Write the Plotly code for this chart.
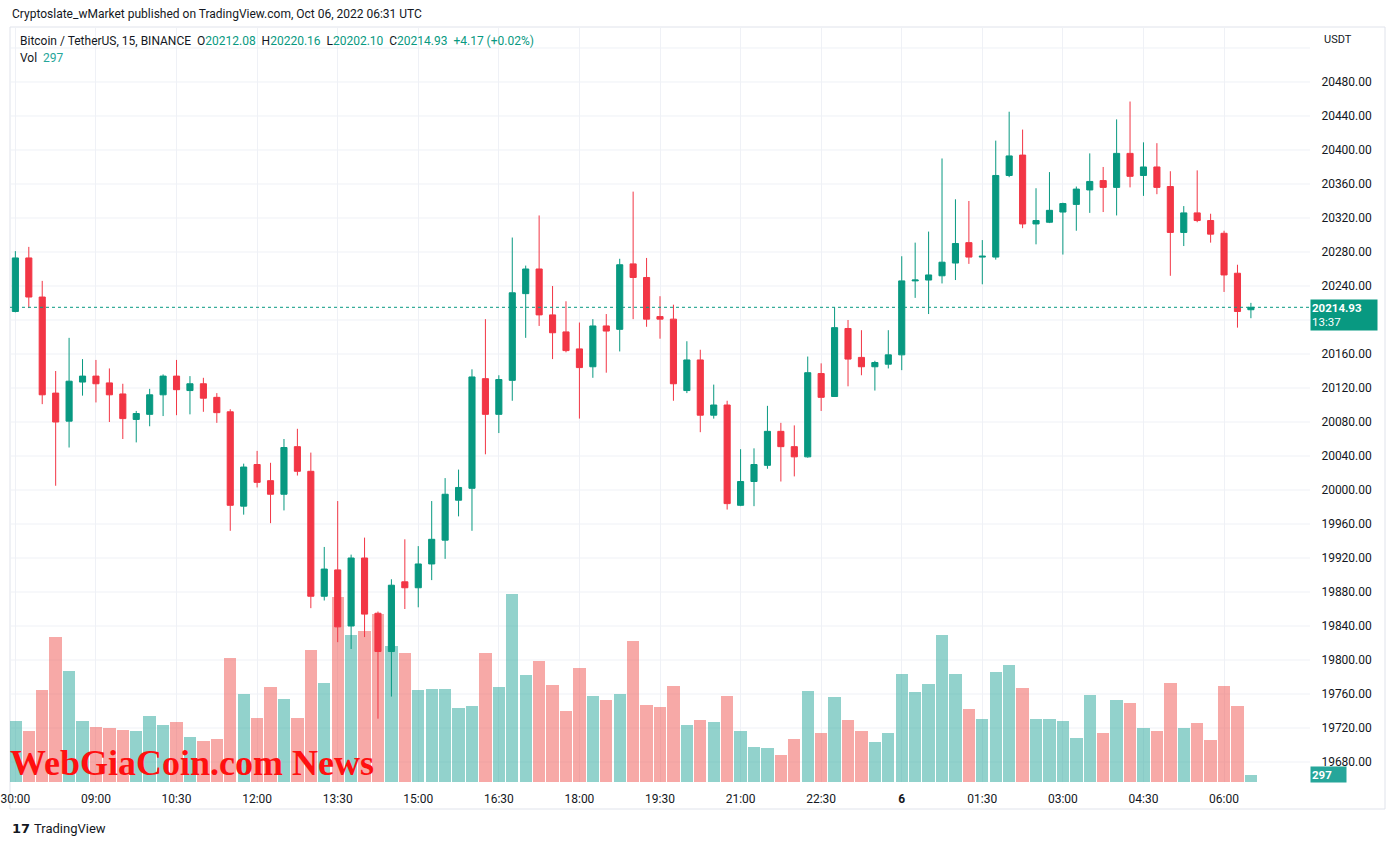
import plotly.graph_objects as go
import pandas as pd

# ---------------- data ----------------
start_time = "2022-10-05 07:30"
n_bars = 93
times = pd.date_range(start_time, periods=n_bars, freq="15min")

open_ = [20210, 20273, 20227, 20114, 20081, 20127, 20134, 20126, 20113, 20083,
         20089, 20112, 20134, 20117, 20125, 20109, 20092, 19981, 20030, 20011,
         19995, 20051, 20022, 19875, 19906, 19840, 19920, 19855, 19810, 19892,
         19885, 19913, 19941, 19988, 20002, 20131, 20089, 20129, 20231, 20260,
         20206, 20186, 20166, 20145, 20193, 20189, 20266, 20250, 20204, 20201,
         20117, 20153, 20088, 20100, 19982, 20010, 20029, 20069, 20051, 20039,
         20137, 20110, 20190, 20156, 20145, 20148, 20159, 20246, 20247, 20252,
         20267, 20291, 20274, 20274, 20370, 20394, 20313, 20315, 20327, 20336,
         20353, 20364, 20356, 20396, 20370, 20380, 20357, 20303, 20326, 20317,
         20302, 20255, 20212.08]
high = [20281, 20286, 20246, 20140, 20179, 20154, 20153, 20143, 20125, 20093,
        20119, 20136, 20153, 20134, 20132, 20114, 20095, 20031, 20046, 20032,
        20060, 20072, 20044, 19933, 19987, 19924, 19944, 19857, 19895, 19942,
        19934, 19987, 20014, 20024, 20142, 20201, 20135, 20297, 20264, 20323,
        20240, 20222, 20197, 20201, 20207, 20272, 20351, 20273, 20228, 20218,
        20175, 20165, 20124, 20105, 20048, 20049, 20099, 20079, 20076, 20157,
        20149, 20215, 20200, 20188, 20152, 20188, 20275, 20291, 20304, 20390,
        20342, 20340, 20294, 20411, 20445, 20424, 20355, 20374, 20338, 20357,
        20396, 20380, 20436, 20457, 20409, 20408, 20375, 20334, 20376, 20325,
        20305, 20265, 20220.16]
low = [20209, 20214, 20101, 20005, 20050, 20111, 20103, 20080, 20060, 20056,
       20075, 20087, 20088, 20089, 20092, 20079, 19952, 19971, 20003, 19961,
       19976, 20017, 19861, 19870, 19821, 19813, 19827, 19731, 19757, 19860,
       19862, 19894, 19919, 19969, 19952, 20042, 20067, 20105, 20179, 20193,
       20154, 20162, 20084, 20132, 20138, 20163, 20201, 20192, 20178, 20105,
       20114, 20068, 20084, 19977, 19981, 19981, 20025, 20010, 20016, 20038,
       20093, 20110, 20122, 20135, 20117, 20143, 20141, 20226, 20207, 20243,
       20247, 20266, 20242, 20271, 20368, 20308, 20289, 20314, 20277, 20305,
       20326, 20327, 20323, 20356, 20346, 20348, 20252, 20287, 20315, 20291,
       20233, 20191, 20202.10]
close = [20273, 20227, 20112, 20080, 20128, 20134, 20125, 20112, 20084, 20090,
         20112, 20134, 20118, 20125, 20108, 20091, 19982, 20027, 20009, 19995,
         20050, 20022, 19875, 19907, 19839, 19920, 19854, 19810, 19888, 19885,
         19913, 19942, 19995, 20003, 20133, 20089, 20130, 20232, 20260, 20206,
         20185, 20164, 20144, 20193, 20187, 20265, 20250, 20201, 20201, 20125,
         20153, 20088, 20100, 19984, 20010, 20030, 20069, 20051, 20039, 20138,
         20109, 20191, 20154, 20145, 20150, 20159, 20246, 20247, 20253, 20268,
         20290, 20274, 20275, 20370, 20393, 20313, 20317, 20329, 20337, 20354,
         20363, 20356, 20396, 20369, 20380, 20356, 20303, 20326, 20317, 20301,
         20253, 20210, 20214.93]
volume = [2671, 2231, 4039, 6362, 4871, 2671, 2402, 2372, 2279, 2231,
          2891, 2499, 2640, 1980, 1804, 1892, 5456, 3872, 2816, 4180,
          3652, 2816, 5808, 4356, 8140, 6468, 6644, 7414, 5984, 5676,
          4048, 4092, 4092, 3256, 3344, 5676, 4180, 8272, 4708, 5324,
          4268, 3124, 5016, 3784, 3608, 3872, 6204, 3388, 3300, 4224,
          2530, 2728, 2640, 3784, 2244, 1540, 1496, 1188, 1892, 4004,
          2156, 3740, 2750, 2266, 1760, 2156, 4752, 3960, 4312, 6468,
          4752, 3212, 2772, 4840, 5148, 4136, 2754, 2754, 2680, 1927,
          3819, 2147, 3604, 3463, 2363, 2226, 4352, 2363, 2578, 1870,
          4211, 3326, 297]

tick_times = ["2022-10-05 07:30", "2022-10-05 09:00", "2022-10-05 10:30",
              "2022-10-05 12:00", "2022-10-05 13:30", "2022-10-05 15:00",
              "2022-10-05 16:30", "2022-10-05 18:00", "2022-10-05 19:30",
              "2022-10-05 21:00", "2022-10-05 22:30", "2022-10-06 00:00",
              "2022-10-06 01:30", "2022-10-06 03:00", "2022-10-06 04:30",
              "2022-10-06 06:00"]
tick_labels = ["30:00", "09:00", "10:30", "12:00", "13:30", "15:00", "16:30",
               "18:00", "19:30", "21:00", "22:30", "<b>6</b>", "01:30", "03:00",
               "04:30", "06:00"]
# 20200 is hidden behind the last-price label in the reference
price_ticks = [19680, 19720, 19760, 19800, 19840, 19880, 19920, 19960, 20000,
               20040, 20080, 20120, 20160, 20240, 20280, 20320, 20360,
               20400, 20440, 20480]
grid_prices = [19680, 19720, 19760, 19800, 19840, 19880, 19920, 19960, 20000,
               20040, 20080, 20120, 20160, 20200, 20240, 20280, 20320, 20360,
               20400, 20440, 20480, 20520]
last_price = 20214.93
last_volume = 297

# ---------------- style ----------------
UP = "#089981"
DOWN = "#F23645"
VOL_UP = "rgba(38,166,154,0.5)"
VOL_DOWN = "rgba(239,83,80,0.5)"
GRID = "#eff1f6"
TEXT = "#131722"
FONT = "Roboto"

W, H = 1393, 845
L, R, T, B = 10, 83, 28, 63
PW, PH = W - L - R, H - T - B


def pxx(x):
    return (x - L) / PW


def pxy(y):
    return (H - B - y) / PH


t0 = pd.Timestamp(start_time)
bar = pd.Timedelta(minutes=15)
x_range = [t0 - 0.40 * bar, t0 + 96.4 * bar]

vol_colors = [VOL_UP if c >= o else VOL_DOWN for o, c in zip(open_, close)]

fig = go.Figure()
fig.add_trace(go.Bar(
    x=times, y=volume, marker=dict(color=vol_colors, line=dict(width=0)),
    width=0.92 * 15 * 60 * 1000, yaxis="y", hoverinfo="skip", showlegend=False))
fig.add_trace(go.Candlestick(
    x=times, open=open_, high=high, low=low, close=close, yaxis="y2",
    increasing=dict(line=dict(color=UP, width=1), fillcolor=UP),
    decreasing=dict(line=dict(color=DOWN, width=1), fillcolor=DOWN),
    whiskerwidth=0, hoverinfo="skip", showlegend=False))

fig.update_layout(
    width=W, height=H, margin=dict(l=L, r=R, t=T, b=B, autoexpand=False),
    paper_bgcolor="white", plot_bgcolor="white",
    font=dict(family=FONT, size=12, color=TEXT),
    boxgap=0.35, bargap=0,
    xaxis=dict(type="date", range=x_range, tickvals=tick_times, ticktext=tick_labels,
               showgrid=True, gridcolor=GRID, gridwidth=1, zeroline=False,
               showline=False, ticks="outside", ticklen=6, tickcolor="rgba(0,0,0,0)",
               tickfont=dict(size=12, color=TEXT),
               rangeslider=dict(visible=False), fixedrange=True, automargin=False),
    yaxis=dict(range=[0, PH * 44], visible=False, showgrid=False, fixedrange=True,
               automargin=False),
    yaxis2=dict(overlaying="y", side="right", range=[19656.5, 20543.5],
                tickvals=price_ticks, tickformat=".2f", showgrid=False,
                zeroline=False, showline=False,
                ticks="outside", ticklen=8, tickcolor="rgba(0,0,0,0)",
                tickfont=dict(size=12, color=TEXT), fixedrange=True, automargin=False),
)

shapes = [
    # outer frame
    dict(type="rect", xref="paper", yref="paper", x0=pxx(10), x1=pxx(1385),
         y0=pxy(809), y1=pxy(27), line=dict(color="#e0e3eb", width=1), layer="below"),
]
# horizontal price grid lines (every 40 USDT)
for gp in grid_prices:
    shapes.append(dict(type="line", xref="paper", yref="y2", x0=0, x1=1, y0=gp, y1=gp,
                       line=dict(color=GRID, width=1), layer="below"))
# last price dotted line
shapes.append(dict(type="line", xref="paper", yref="y2", x0=0, x1=1,
                   y0=last_price, y1=last_price, line=dict(color=UP, width=1, dash="dot")))
fig.update_layout(shapes=shapes)

g = UP
ann = [
    dict(x=pxx(10), y=pxy(14), text="Cryptoslate_wMarket published on TradingView.com, Oct 06, 2022 06:31 UTC",
         font=dict(size=12, color=TEXT)),
    dict(x=pxx(18), y=pxy(41),
         text=("Bitcoin / TetherUS, 15, BINANCE&nbsp;&nbsp;O<span style='color:%s'>20212.08</span>"
               "&nbsp;&nbsp;H<span style='color:%s'>20220.16</span>"
               "&nbsp;&nbsp;L<span style='color:%s'>20202.10</span>"
               "&nbsp;&nbsp;C<span style='color:%s'>20214.93</span>"
               "&nbsp;&nbsp;<span style='color:%s'>+4.17 (+0.02%%)</span>") % (g, g, g, g, g),
         font=dict(size=12, color=TEXT)),
    dict(x=pxx(18), y=pxy(58), text="Vol&nbsp;&nbsp;<span style='color:%s'>%d</span>" % ("#26a69a", last_volume),
         font=dict(size=12, color=TEXT)),
    dict(x=pxx(1322), y=pxy(40), text="USDT", font=dict(size=11, color=TEXT)),
    dict(x=pxx(1310), y=pxy(315), text="<b>%.2f</b><br>13:37" % last_price,
         font=dict(size=11.5, color="white"), bgcolor=UP, width=64, height=28,
         align="left", borderpad=1),
    dict(x=pxx(1310), y=pxy(774), text="<b>%d</b>" % last_volume,
         font=dict(size=11.5, color="white"), bgcolor="#26a69a", width=33, height=13,
         align="left", borderpad=1),
    dict(x=pxx(8), y=pxy(763), text="<b>WebGiaCoin.com News</b>",
         font=dict(family="Liberation Serif", size=36, color="#ff1010")),
    dict(x=pxx(10), y=pxy(828), text="<b>17</b>",
         font=dict(family="DejaVu Sans", size=13, color=TEXT)),
    dict(x=pxx(32), y=pxy(828), text="TradingView", font=dict(size=13, color=TEXT)),
]
for a in ann:
    a.setdefault("xref", "paper")
    a.setdefault("yref", "paper")
    a.setdefault("xanchor", "left")
    a.setdefault("yanchor", "middle")
    a.setdefault("showarrow", False)
fig.update_layout(annotations=ann)

# remove the browser's default 8px page margin so the figure sits at the top-left corner
fig.write_html("out.html", config={"displayModeBar": False},
               post_script="document.body.style.margin='0';")
